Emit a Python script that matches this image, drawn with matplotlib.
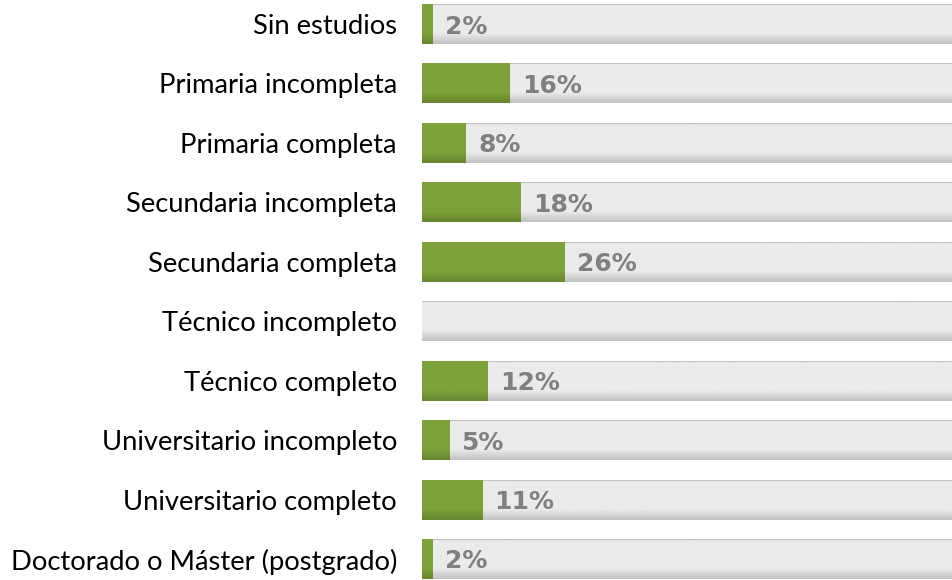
import numpy as np
import matplotlib
matplotlib.use("Agg")
import matplotlib.pyplot as plt
from matplotlib.colors import to_rgb

categories = [
    "Sin estudios",
    "Primaria incompleta",
    "Primaria completa",
    "Secundaria incompleta",
    "Secundaria completa",
    "Técnico incompleto",
    "Técnico completo",
    "Universitario incompleto",
    "Universitario completo",
    "Doctorado o Máster (postgrado)",
]
values = [2, 16, 8, 18, 26, 0, 12, 5, 11, 2]
labels = ["2%", "16%", "8%", "18%", "26%", "", "12%", "5%", "11%", "2%"]
background_total = [100] * len(categories)

W, H = 952, 580
fig = plt.figure(figsize=(W / 100, H / 100), dpi=100)
ax_left = 422 / W
ax = fig.add_axes([ax_left, 0, 1 - ax_left, 1])

px_per_unit = 59.44
top_units = 24 / px_per_unit
bot_units = (H - 559) / px_per_unit
n = len(categories)
bar_h = 40 / px_per_unit
y = np.arange(n)

grey = to_rgb("#ebebeb")
green = to_rgb("#7ea13a")

bg = ax.barh(y, background_total, height=bar_h, color=grey, linewidth=0, zorder=1)
fg = ax.barh(y, values, height=bar_h, color=green, linewidth=0, zorder=2)


def profile(border):
    rows = 40
    f = np.ones(rows)
    if border:
        f[:2] = 0.82
    f[-11:] = np.linspace(1.0, 0.83, 11)
    return f


def shade(patches, base, border, z):
    prof = profile(border)
    img = np.clip(prof[:, None, None] * np.array(base)[None, None, :], 0, 1)
    for p in patches:
        x0, yb = p.get_x(), p.get_y()
        w, h = p.get_width(), p.get_height()
        if w <= 0:
            continue
        im = ax.imshow(img, extent=(x0, x0 + w, yb + h, yb), aspect="auto",
                       interpolation="bilinear", zorder=z)
        im.set_clip_path(p)


shade(bg, grey, True, 1.5)
shade(fg, green, False, 2.5)
ax.set_ylim(n - 1 + bot_units, -top_units)
ax.set_xlim(0, (W - 422) / 5.5)

off = 12 / 5.5
for yi, v, lab in zip(y, values, labels):
    if lab:
        ax.text(v + off, yi, lab, ha="left", va="center_baseline", fontsize=18,
                fontweight="bold", color="#808080", family="DejaVu Sans", zorder=5)

for yi, c in zip(y, categories):
    ax.text(-25 / 5.5, yi, c, ha="right", va="center_baseline", fontsize=19.7,
            color="#000000", family="Lato", zorder=5, clip_on=False)

ax.axis("off")
fig.savefig("out.png", dpi=100)
